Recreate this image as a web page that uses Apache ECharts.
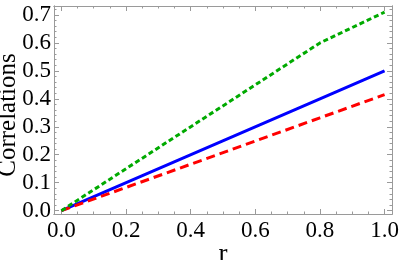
<!DOCTYPE html>
<html>
<head>
<meta charset="utf-8">
<script src="https://cdn.jsdelivr.net/npm/echarts@6/dist/echarts.min.js"></script>
<style>
html,body{margin:0;padding:0;background:#fff;}
#c{width:399px;height:260px;}
</style>
</head>
<body>
<div id="c"></div>
<script>
// Data
var rValues = [0, 0.8, 1.0];
var blueValues = [0, 0.4, 0.5];
var redValues = [0, 0.332, 0.415];
var greenValues = [0, 0.6, 0.71];

var xMajorTicks = [0, 0.2, 0.4, 0.6, 0.8, 1.0];
var xMinorTicks = [0.05,0.1,0.15,0.25,0.3,0.35,0.45,0.5,0.55,0.65,0.7,0.75,0.85,0.9,0.95];
var yMajorTicks = [0, 0.1, 0.2, 0.3, 0.4, 0.5, 0.6, 0.7];
var yMinorTicks = [];
for (var i = 0; i < 7; i++) { for (var j = 1; j < 5; j++) { yMinorTicks.push(+(i*0.1 + j*0.02).toFixed(2)); } }
yMinorTicks.push(0.72);

var X_MIN = -0.023, X_MAX = 1.023;
var Y_MIN = -0.012, Y_MAX = 0.732;
var FONT = 'Liberation Serif';
var frameColor = '#9a9a9a';

function pairs(ys) { return rValues.map(function (r, k) { return [r, ys[k]]; }); }

function xAx(pos, ticks, len, labels, extra) {
  var a = {
    type: 'value', position: pos, min: X_MIN, max: X_MAX, offset: 0,
    axisLine: { show: true, onZero: false, lineStyle: { color: frameColor, width: 1 } },
    axisTick: { show: true, inside: true, length: len, customValues: ticks, lineStyle: { color: frameColor, width: 1 } },
    axisLabel: labels ? { show: true, customValues: ticks, fontFamily: FONT, fontSize: 23, color: '#000', margin: 5,
      formatter: function (v) { return v.toFixed(1); } } : { show: false },
    splitLine: { show: false }
  };
  for (var k in extra) a[k] = extra[k];
  return a;
}
function yAx(pos, ticks, len, labels, extra) {
  var a = {
    type: 'value', position: pos, min: Y_MIN, max: Y_MAX, offset: 0,
    axisLine: { show: true, onZero: false, lineStyle: { color: frameColor, width: 1 } },
    axisTick: { show: true, inside: true, length: len, customValues: ticks, lineStyle: { color: frameColor, width: 1 } },
    axisLabel: labels ? { show: true, customValues: ticks, fontFamily: FONT, fontSize: 23, color: '#000', margin: 3,
      formatter: function (v) { return v.toFixed(1); } } : { show: false },
    splitLine: { show: false }
  };
  for (var k in extra) a[k] = extra[k];
  return a;
}

var chart = echarts.init(document.getElementById('c'), null, { renderer: 'canvas' });
chart.setOption({
  animation: false,
  backgroundColor: '#fff',
  grid: { left: 54, right: 7, top: 6, bottom: 46, containLabel: false, outerBoundsMode: 'none' },
  xAxis: [
    xAx('bottom', xMajorTicks, 5, true, { name: 'r', nameLocation: 'middle', nameGap: 27, nameMoveOverlap: false,
      nameTextStyle: { fontFamily: FONT, fontSize: 27, color: '#000' } }),
    xAx('bottom', xMinorTicks, 2.5, false, {}),
    xAx('top', xMajorTicks, 5, false, {}),
    xAx('top', xMinorTicks, 2.5, false, {})
  ],
  yAxis: [
    yAx('left', yMajorTicks, 5, true, { name: 'Correlations', nameLocation: 'middle', nameGap: 33, nameMoveOverlap: false,
      nameTextStyle: { fontFamily: FONT, fontSize: 25, color: '#000', padding: [0, 10, 0, 0] } }),
    yAx('left', yMinorTicks, 2.5, false, {}),
    yAx('right', yMajorTicks, 5, false, {}),
    yAx('right', yMinorTicks, 2.5, false, {})
  ],
  series: [
    { type: 'line', data: pairs(blueValues), showSymbol: false, symbol: 'none',
      lineStyle: { color: '#0000ff', width: 3 }, z: 3 },
    { type: 'line', data: pairs(redValues), showSymbol: false, symbol: 'none',
      lineStyle: { color: '#ff0000', width: 3, type: [9, 5] }, z: 4 },
    { type: 'line', data: pairs(greenValues), showSymbol: false, symbol: 'none',
      lineStyle: { color: '#00aa00', width: 3, type: [5, 3] }, z: 4 }
  ]
});
</script>
</body>
</html>
